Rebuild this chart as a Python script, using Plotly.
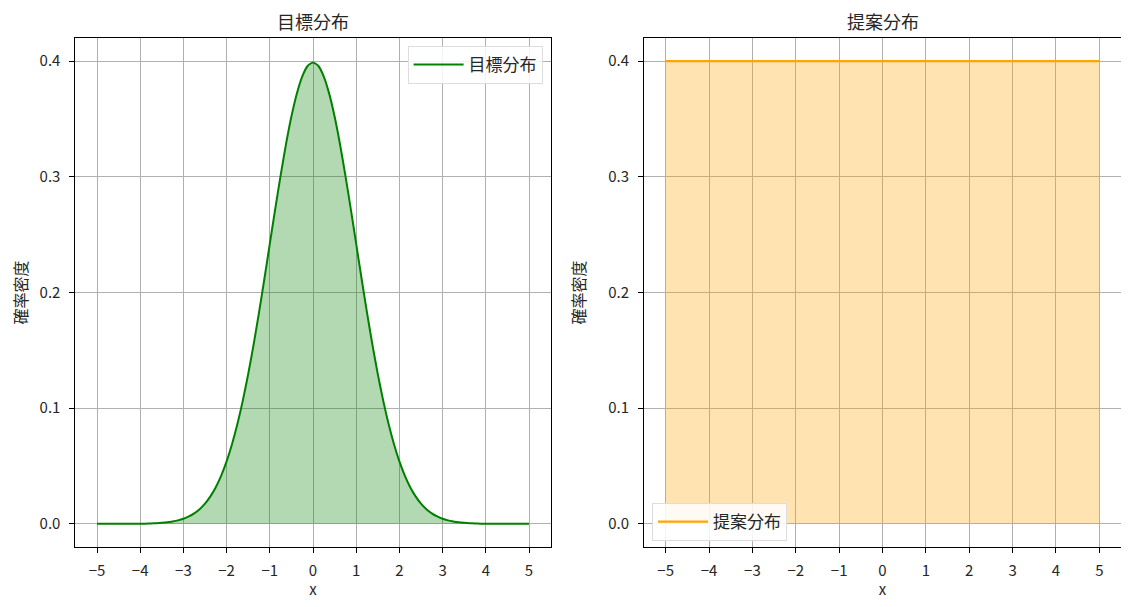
import plotly.graph_objects as go

# Target distribution
target_x = [-5.0, -4.75, -4.5, -4.25, -4.0, -3.875, -3.75, -3.625, -3.5, -3.375, -3.25, -3.125,
            -3.0, -2.875, -2.75, -2.625, -2.5, -2.375, -2.25, -2.125, -2.0, -1.875, -1.75, -1.625,
            -1.5, -1.375, -1.25, -1.125, -1.0, -0.875, -0.75, -0.625, -0.5, -0.375, -0.25, -0.125,
            0.0, 0.125, 0.25, 0.375, 0.5, 0.625, 0.75, 0.875, 1.0, 1.125, 1.25, 1.375,
            1.5, 1.625, 1.75, 1.875, 2.0, 2.125, 2.25, 2.375, 2.5, 2.625, 2.75, 2.875,
            3.0, 3.125, 3.25, 3.375, 3.5, 3.625, 3.75, 3.875, 4.0, 4.25, 4.5, 4.75, 5.0]
target_y = [0.0000, 0.0000, 0.0000, 0.0000, 0.0001, 0.0002, 0.0004, 0.0006, 0.0009, 0.0013, 0.0020, 0.0030,
            0.0044, 0.0064, 0.0091, 0.0127, 0.0175, 0.0238, 0.0317, 0.0417, 0.0540, 0.0689, 0.0863, 0.1065,
            0.1295, 0.1550, 0.1826, 0.2119, 0.2420, 0.2721, 0.3011, 0.3282, 0.3521, 0.3719, 0.3867, 0.3958,
            0.3989, 0.3958, 0.3867, 0.3719, 0.3521, 0.3282, 0.3011, 0.2721, 0.2420, 0.2119, 0.1826, 0.1550,
            0.1295, 0.1065, 0.0863, 0.0689, 0.0540, 0.0417, 0.0317, 0.0238, 0.0175, 0.0127, 0.0091, 0.0064,
            0.0044, 0.0030, 0.0020, 0.0013, 0.0009, 0.0006, 0.0004, 0.0002, 0.0001, 0.0000, 0.0000, 0.0000, 0.0000]

# Proposal distribution
proposal_x = [-5.0, 5.0]
proposal_y = [0.4, 0.4]

x_ticks = [-5, -4, -3, -2, -1, 0, 1, 2, 3, 4, 5]
y_ticks = [0.0, 0.1, 0.2, 0.3, 0.4]
y_ticklabels = ["0.0", "0.1", "0.2", "0.3", "0.4"]

titles = ["目標分布", "提案分布"]
ylabel = "確率密度"
xlabel = "x"

FONT = "Noto Sans CJK JP"
TXT = "#262626"

fig = go.Figure()
# fills (no legend)
fig.add_trace(go.Scatter(
    x=target_x, y=target_y, mode="lines", showlegend=False, hoverinfo="skip",
    line=dict(color="rgba(0,0,0,0)", width=0),
    fill="tozeroy", fillcolor="rgba(0,128,0,0.3)", xaxis="x", yaxis="y"))
fig.add_trace(go.Scatter(
    x=proposal_x, y=proposal_y, mode="lines", showlegend=False, hoverinfo="skip",
    line=dict(color="rgba(0,0,0,0)", width=0),
    fill="tozeroy", fillcolor="rgba(255,165,0,0.3)", xaxis="x2", yaxis="y2"))
# lines
fig.add_trace(go.Scatter(
    x=target_x, y=target_y, mode="lines", name="目標分布",
    line=dict(color="#008000", width=2, shape="spline", smoothing=0.6),
    xaxis="x", yaxis="y", legend="legend"))
fig.add_trace(go.Scatter(
    x=proposal_x, y=proposal_y, mode="lines", name="提案分布",
    line=dict(color="#FFA500", width=2.2),
    xaxis="x2", yaxis="y2", legend="legend2"))

OFF = 8  # browser body margin
W, H = 1129 - 2 * OFF, 607 - 2 * OFF
left_dom = [(75.4 - OFF) / W, (550.6 - OFF) / W]
right_dom = [(644 - OFF) / W, (1121 - OFF) / W]
y_dom = [1 - (547 - OFF) / H, 1 - (38 - OFF) / H]

axis_common = dict(
    showline=True, linecolor="black", linewidth=1, mirror=True,
    ticks="outside", ticklen=5, tickcolor="black", tickwidth=1,
    showgrid=True, gridcolor="#b0b0b0", gridwidth=1, zeroline=False,
    tickfont=dict(family=FONT, size=15, color=TXT),
)
xt = dict(ticklabelstandoff=5, **axis_common)
yt = dict(ticklabelstandoff=6, **axis_common)

legend_common = dict(bgcolor="rgba(255,255,255,0.85)", bordercolor="#dddddd", borderwidth=1,
                     itemwidth=50, font=dict(family=FONT, size=17, color=TXT))

fig.update_layout(
    width=W, height=H,
    margin=dict(l=0, r=0, t=0, b=0),
    paper_bgcolor="white", plot_bgcolor="white",
    font=dict(family=FONT, size=15, color=TXT),
    xaxis=dict(domain=left_dom, anchor="y", range=[-5.5, 5.5], tickvals=x_ticks,
               ticktext=[str(t).replace("-", "−") for t in x_ticks],
               title=dict(text=xlabel, font=dict(family=FONT, size=15, color=TXT), standoff=7), **xt),
    yaxis=dict(domain=y_dom, anchor="x", range=[-0.02, 0.42], tickvals=y_ticks, ticktext=y_ticklabels,
               title=dict(text=ylabel, font=dict(family=FONT, size=16, color=TXT), standoff=20), **yt),
    xaxis2=dict(domain=right_dom, anchor="y2", range=[-5.5, 5.5], tickvals=x_ticks,
                ticktext=[str(t).replace("-", "−") for t in x_ticks],
                title=dict(text=xlabel, font=dict(family=FONT, size=15, color=TXT), standoff=7), **xt),
    yaxis2=dict(domain=y_dom, anchor="x2", range=[-0.02, 0.42], tickvals=y_ticks, ticktext=y_ticklabels,
                title=dict(text=ylabel, font=dict(family=FONT, size=16, color=TXT), standoff=18), **yt),
    legend=dict(x=left_dom[1] - 8 / W, y=y_dom[1] - 8 / H, xanchor="right", yanchor="top", **legend_common),
    legend2=dict(x=right_dom[0] + 8 / W, y=y_dom[0] + 6 / H, xanchor="left", yanchor="bottom", **legend_common),
    annotations=[
        dict(text=titles[0], x=(left_dom[0] + left_dom[1]) / 2, y=y_dom[1], xref="paper", yref="paper",
             xanchor="center", yanchor="bottom", yshift=2, showarrow=False,
             font=dict(family=FONT, size=18, color=TXT)),
        dict(text=titles[1], x=(right_dom[0] + right_dom[1]) / 2, y=y_dom[1], xref="paper", yref="paper",
             xanchor="center", yanchor="bottom", yshift=2, showarrow=False,
             font=dict(family=FONT, size=18, color=TXT)),
    ],
    showlegend=True,
)

fig.write_html("out.html")
